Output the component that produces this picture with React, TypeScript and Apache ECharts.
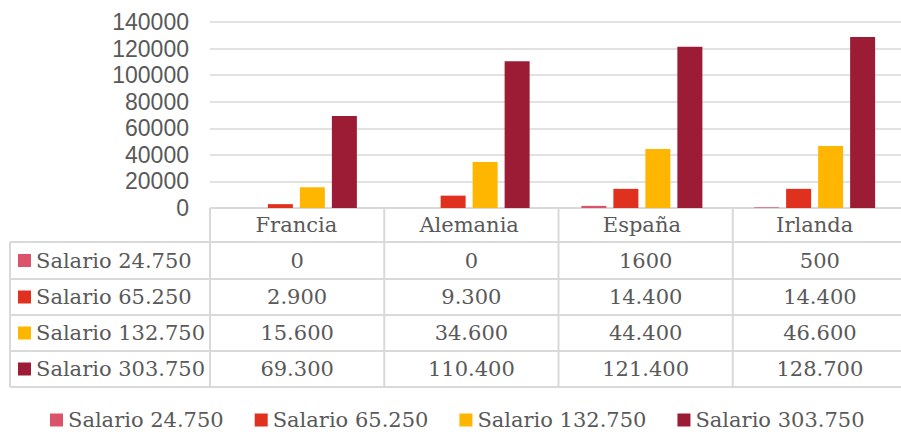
import React, { useEffect, useRef } from "react";
import * as echarts from "echarts";

const categories = ["Francia", "Alemania", "España", "Irlanda"];
const seriesNames = ["Salario 24.750", "Salario 65.250", "Salario 132.750", "Salario 303.750"];
const salario24750 = [0, 0, 1600, 500];
const salario65250 = [2900, 9300, 14400, 14400];
const salario132750 = [15600, 34600, 44400, 46600];
const salario303750 = [69300, 110400, 121400, 128700];
const seriesColors = ["#DB536A", "#E0301E", "#FFB600", "#9B1C34"];
const useThousandDots = [false, true, true, true];
const yTicks = { min: 0, max: 140000, interval: 20000 };

const W = 901;
const H = 432;
const GRID_LEFT = 210;
const GRID_RIGHT = -6;
const GRID_TOP = 22;
const AXIS_Y = 208;
const TABLE_LEFT = 10;
const HEADER_BOTTOM = 242;
const ROW_LINES = [242, 279, 315, 351, 387];
const LINE_COLOR = "#D9D9D9";
const TEXT_COLOR = "#595959";
const SERIF = "DejaVu Serif";

function fmt(v: number, dots: boolean) {
  if (!dots) return String(v);
  return String(v).replace(/\B(?=(\d{3})+(?!\d))/g, ".");
}

export default function App() {
  const ref = useRef<HTMLDivElement>(null);
  useEffect(() => {
    document.body.style.margin = "0";
    const chart = echarts.init(ref.current!, undefined, { renderer: "svg" });
    const allData = [salario24750, salario65250, salario132750, salario303750];
    const plotRight = W - GRID_RIGHT;
    const colW = (plotRight - GRID_LEFT) / categories.length;
    const graphics: any[] = [];
    graphics.push({
      type: "line",
      shape: { x1: GRID_LEFT, y1: AXIS_Y, x2: plotRight, y2: AXIS_Y },
      style: { stroke: LINE_COLOR, lineWidth: 2 },
    });
    ROW_LINES.forEach((y) => {
      graphics.push({
        type: "line",
        shape: { x1: TABLE_LEFT, y1: y, x2: plotRight, y2: y },
        style: { stroke: LINE_COLOR, lineWidth: 2 },
      });
    });
    graphics.push({
      type: "line",
      shape: { x1: TABLE_LEFT, y1: HEADER_BOTTOM, x2: TABLE_LEFT, y2: ROW_LINES[ROW_LINES.length - 1] },
      style: { stroke: LINE_COLOR, lineWidth: 2 },
    });
    for (let i = 0; i <= categories.length; i++) {
      const x = GRID_LEFT + i * colW;
      graphics.push({
        type: "line",
        shape: { x1: x, y1: AXIS_Y, x2: x, y2: ROW_LINES[ROW_LINES.length - 1] },
        style: { stroke: LINE_COLOR, lineWidth: 2 },
      });
    }
    seriesNames.forEach((name, r) => {
      const cy = (ROW_LINES[r] + ROW_LINES[r + 1]) / 2;
      graphics.push({
        type: "rect",
        shape: { x: 18, y: cy - 6.5, width: 13, height: 13 },
        style: { fill: seriesColors[r] },
      });
      graphics.push({
        type: "text",
        x: 36,
        y: cy,
        style: {
          text: name,
          fill: TEXT_COLOR,
          font: `21px "${SERIF}"`,
          verticalAlign: "middle",
          align: "left",
        },
      });
      allData[r].forEach((v, c) => {
        graphics.push({
          type: "text",
          x: GRID_LEFT + (c + 0.5) * colW,
          y: cy,
          style: {
            text: fmt(v, useThousandDots[r]),
            fill: TEXT_COLOR,
            font: `21px "${SERIF}"`,
            verticalAlign: "middle",
            align: "center",
          },
        });
      });
    });

    chart.setOption({
      animation: false,
      grid: { left: GRID_LEFT, right: GRID_RIGHT, top: GRID_TOP, bottom: H - AXIS_Y, containLabel: false },
      legend: {
        data: seriesNames,
        left: 50,
        top: 409,
        width: 850,
        padding: 0,
        icon: "rect",
        itemWidth: 13,
        itemHeight: 13,
        itemGap: 31,
        textStyle: { fontFamily: SERIF, fontSize: 21, lineHeight: 22, color: TEXT_COLOR },
      },
      xAxis: {
        type: "category",
        data: categories,
        axisLine: { show: false },
        axisTick: { show: false },
        axisLabel: {
          margin: 17,
          verticalAlign: "middle",
          fontFamily: SERIF,
          fontSize: 21,
          color: TEXT_COLOR,
        },
      },
      yAxis: {
        type: "value",
        min: yTicks.min,
        max: yTicks.max,
        interval: yTicks.interval,
        axisLine: { show: false },
        axisTick: { show: false },
        splitLine: { lineStyle: { color: LINE_COLOR, width: 1.5 } },
        axisLabel: {
          margin: 21,
          fontFamily: "Liberation Sans",
          fontSize: 23,
          color: TEXT_COLOR,
          formatter: (v: number) => String(v),
        },
      },
      series: seriesNames.map((name, i) => ({
        name,
        type: "bar",
        data: allData[i],
        barWidth: 25,
        barGap: "28%",
        itemStyle: { color: seriesColors[i] },
      })),
      graphic: graphics,
    });
    return () => chart.dispose();
  }, []);
  return <div ref={ref} style={{ width: W, height: H }} />;
}
